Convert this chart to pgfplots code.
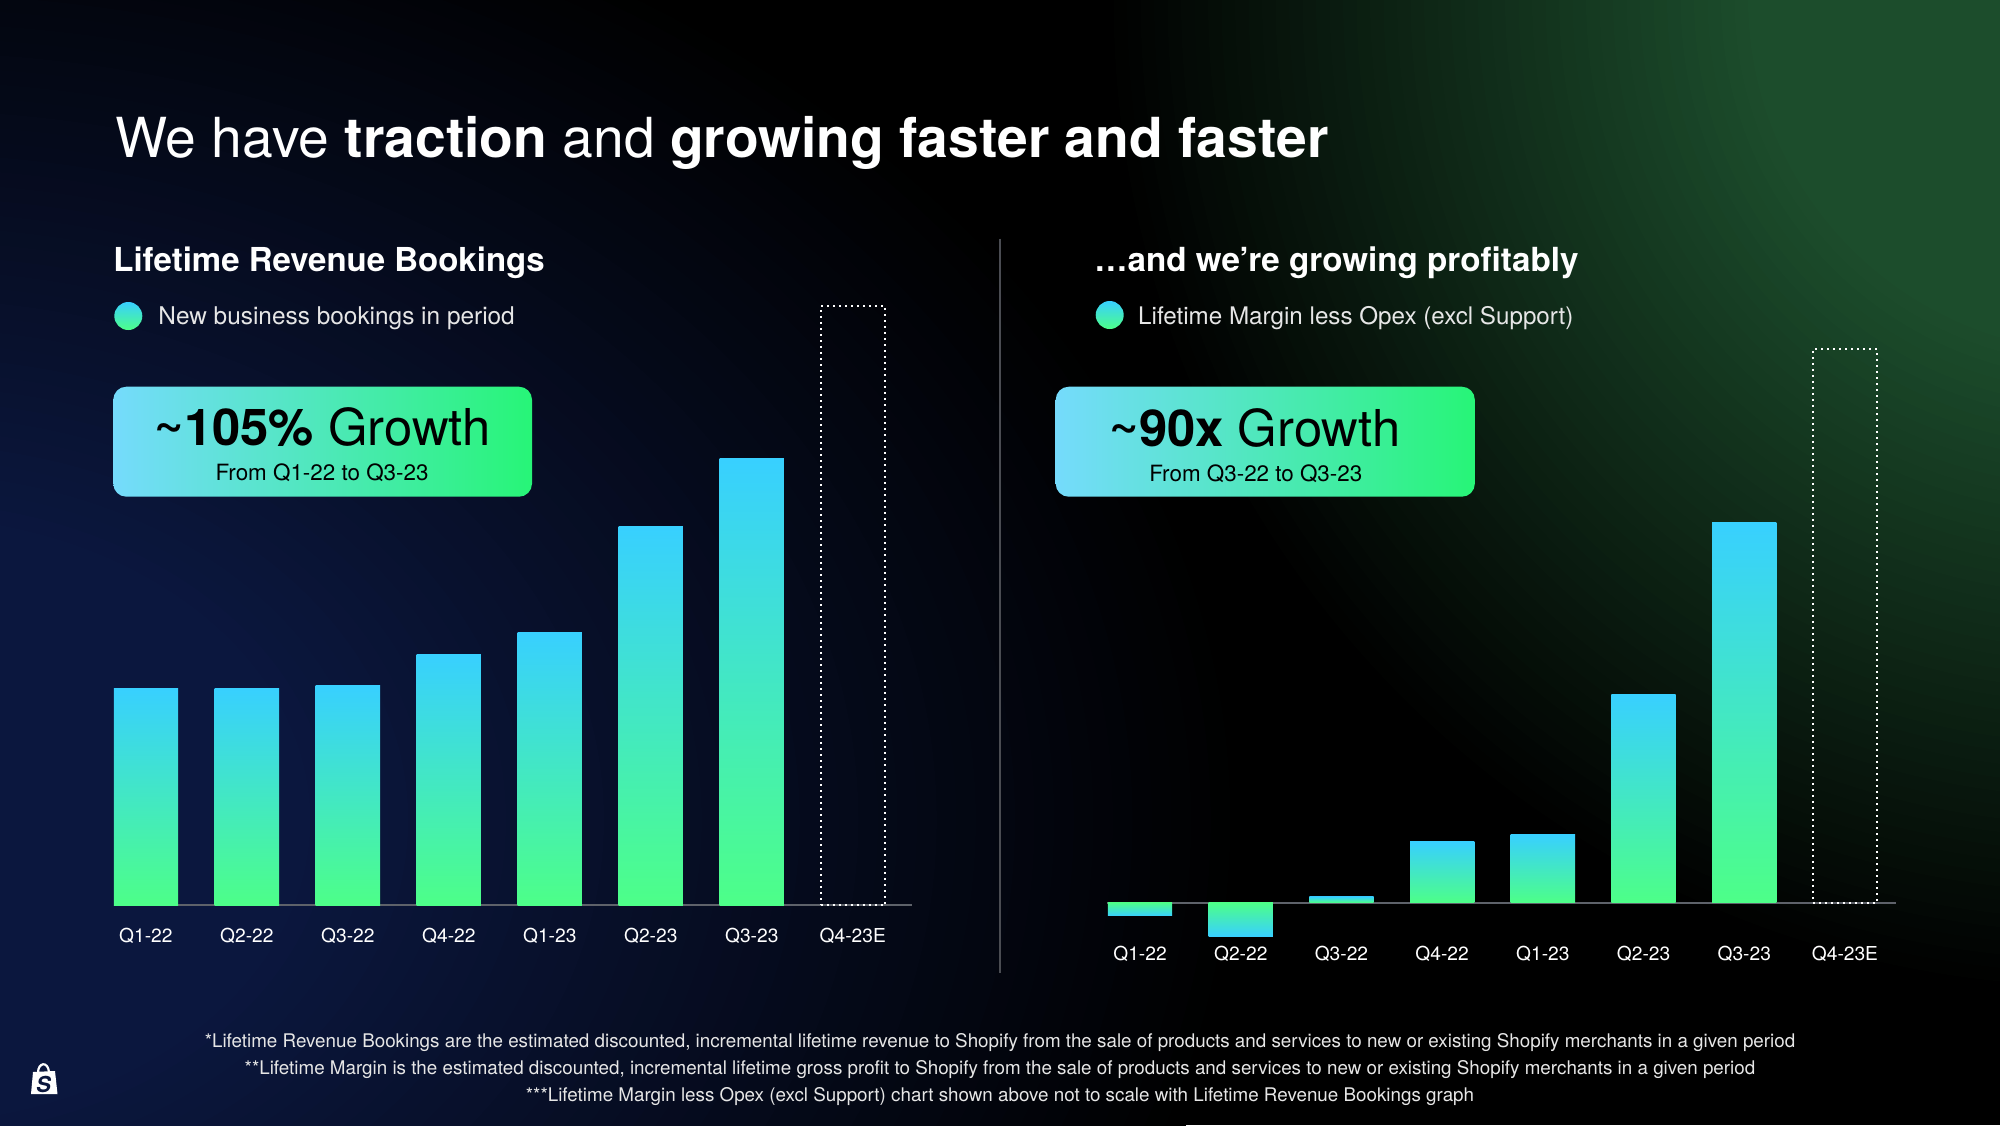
\documentclass[border=0pt]{standalone}
\usepackage{fontspec}
\setmainfont{TeX Gyre Heros}
\usepackage{pgfplots}
\pgfplotsset{compat=1.18}

\definecolor{barblue}{HTML}{38D0FF}
\definecolor{bargreen}{HTML}{4DFF88}
\definecolor{boxL}{HTML}{75DBFC}
\definecolor{boxR}{HTML}{27F577}
\definecolor{axisgray}{HTML}{5E626A}
\definecolor{divgray}{HTML}{4A4C52}
\definecolor{glow}{HTML}{1C4D2C}
\definecolor{navy}{HTML}{0B173E}
\definecolor{notegray}{HTML}{E6E6E6}

\pgfplotsset{
  slide/.style={
    scale only axis, anchor=south west,
    axis line style={draw=none},
    ytick=\empty,
    xtick={0,...,7},
    xticklabels={Q1-22,Q2-22,Q3-22,Q4-22,Q1-23,Q2-23,Q3-23,Q4-23E},
    major tick length=0pt,
    xticklabel style={font=\fontsize{9.6}{11}\selectfont, text=white, anchor=center},
    extra y ticks={0}, extra y tick labels={},
    extra y tick style={grid=major, major grid style={draw=axisgray, line width=1pt}},
    clip=false,
  },
  bar/.style={ybar, bar shift=0pt, bar width=32.15pt, draw=none,
    top color=barblue, bottom color=bargreen},
  negbar/.style={ybar, bar shift=0pt, bar width=32.15pt, draw=none,
    top color=bargreen, bottom color=barblue},
  estbar/.style={ybar, bar shift=0pt, bar width=32.15pt, fill=none, draw=white,
    line width=1pt, dash pattern=on 1pt off 2pt},
}

\begin{document}
\begin{tikzpicture}
% background
\begin{scope}[x=0.5pt,y=-0.5pt]
  \fill[black] (0,0) rectangle (2000,1125);
  \begin{scope}
    \clip (0,0) rectangle (2000,1125);
    \foreach \i in {0,...,48}{
      \pgfmathsetmacro\r{1000-\i*14.5}
      \pgfmathsetmacro\p{\i*100/48}
      \fill[navy!\p!black] (-100,820) ellipse[x radius=1.35*\r*0.5pt, y radius=\r*0.5pt];
    }
    \foreach \i in {0,...,48}{
      \pgfmathsetmacro\r{1000-\i*13.5}
      \pgfmathsetmacro\p{\i*100/48}
      \fill[glow!\p!black] (2100,0) circle[radius=\r*0.5pt];
    }
  \end{scope}
\end{scope}

% left chart: Lifetime Revenue Bookings
\begin{axis}[slide, at={(56.9pt,-452.65pt)}, width=399pt, height=302.93pt,
  xmin=-0.318, xmax=7.585, ymin=0, ymax=475,
  xticklabel style={yshift=-15.35pt}]
  \addplot[bar] coordinates {(0,170)};
  \addplot[bar] coordinates {(1,170)};
  \addplot[bar] coordinates {(2,172)};
  \addplot[bar] coordinates {(3,197)};
  \addplot[bar] coordinates {(4,214)};
  \addplot[bar] coordinates {(5,297)};
  \addplot[bar] coordinates {(6,350)};
  \addplot[estbar] coordinates {(7,470)};
\end{axis}

% right chart: Lifetime Margin less Opex
\begin{axis}[slide, at={(553.5pt,-476.76pt)}, width=394.3pt, height=306.1pt,
  xmin=-0.328, xmax=7.503, ymin=-40, ymax=440]
  \addplot[negbar] coordinates {(0,-10.5)};
  \addplot[negbar] coordinates {(1,-26.5)};
  \addplot[bar] coordinates {(2,4.5)};
  \addplot[bar] coordinates {(3,47.5)};
  \addplot[bar] coordinates {(4,53)};
  \addplot[bar] coordinates {(5,163)};
  \addplot[bar] coordinates {(6,298)};
  \addplot[estbar] coordinates {(7,434)};
\end{axis}

\begin{scope}[x=0.5pt,y=-0.5pt]
  % title
  \node[anchor=base west, inner sep=0pt, text=white, font=\fontsize{27.6}{33}\selectfont]
    at (115,157) {We have \textbf{traction} and \textbf{growing faster and faster}};

  % left header
  \node[anchor=base west, inner sep=0pt, text=white, font=\fontsize{16.5}{20}\selectfont\bfseries]
    at (113,271.7) {Lifetime Revenue Bookings};
  \shade[top color=barblue, bottom color=bargreen] (128.3,316) circle[radius=7pt];
  \node[anchor=base west, inner sep=0pt, text=notegray, font=\fontsize{12.2}{15}\selectfont]
    at (158,324) {New business bookings in period};
  \shade[left color=boxL, right color=boxR, rounded corners=6.5pt] (113.3,386.7) rectangle (532,496.7);
  \node[anchor=base, inner sep=0pt, text=black, font=\fontsize{25.4}{30}\selectfont]
    at (322.6,445) {\textbf{\raisebox{0.1em}{\textasciitilde}105\%} Growth};
  \node[anchor=base, inner sep=0pt, text=black, font=\fontsize{11.2}{14}\selectfont]
    at (322,480) {From Q1-22 to Q3-23};

  % divider
  \draw[divgray, line width=0.75pt] (1000,238.5) -- (1000,973);

  % right header
  \node[anchor=base west, inner sep=0pt, text=white, font=\fontsize{16.6}{20}\selectfont\bfseries]
    at (1094,271.7) {…and we’re growing profitably};
  \shade[top color=barblue, bottom color=bargreen] (1109.7,315) circle[radius=7pt];
  \node[anchor=base west, inner sep=0pt, text=notegray, font=\fontsize{12.1}{15}\selectfont]
    at (1137.8,324) {Lifetime Margin less Opex (excl Support)};
  \shade[left color=boxL, right color=boxR, rounded corners=6.5pt] (1055.7,386.7) rectangle (1474.8,496.7);
  \node[anchor=base, inner sep=0pt, text=black, font=\fontsize{25.4}{30}\selectfont]
    at (1255,446) {\textbf{\raisebox{0.1em}{\textasciitilde}90x} Growth};
  \node[anchor=base, inner sep=0pt, text=black, font=\fontsize{11.2}{14}\selectfont]
    at (1255.8,481) {From Q3-22 to Q3-23};

  % footnotes
  \begin{scope}[every node/.style={anchor=base, inner sep=0pt, text=notegray, font=\fontsize{9.4}{11}\selectfont}]
    \node at (1000,1047) {*Lifetime Revenue Bookings are the estimated discounted, incremental lifetime revenue to Shopify from the sale of products and services to new or existing Shopify merchants in a given period};
    \node at (1000,1074) {**Lifetime Margin is the estimated discounted, incremental lifetime gross profit to Shopify from the sale of products and services to new or existing Shopify merchants in a given period};
    \node at (1000,1101) {***Lifetime Margin less Opex (excl Support) chart shown above not to scale with Lifetime Revenue Bookings graph};
  \end{scope}

  % logo
  \fill[white] (33,1072) -- (55,1071) -- (57.5,1094) -- (31,1094) -- cycle;
  \draw[white, line width=1.1pt] (38,1073) .. controls (38,1062) and (48,1061) .. (49,1072);
  \node[text=navy, inner sep=0pt, font=\fontsize{11}{12}\selectfont\bfseries\itshape] at (43.5,1084) {S};
\end{scope}

\pgfresetboundingbox
\path[use as bounding box] (0,0) rectangle (1000pt,-562.5pt);
\end{tikzpicture}
\end{document}
